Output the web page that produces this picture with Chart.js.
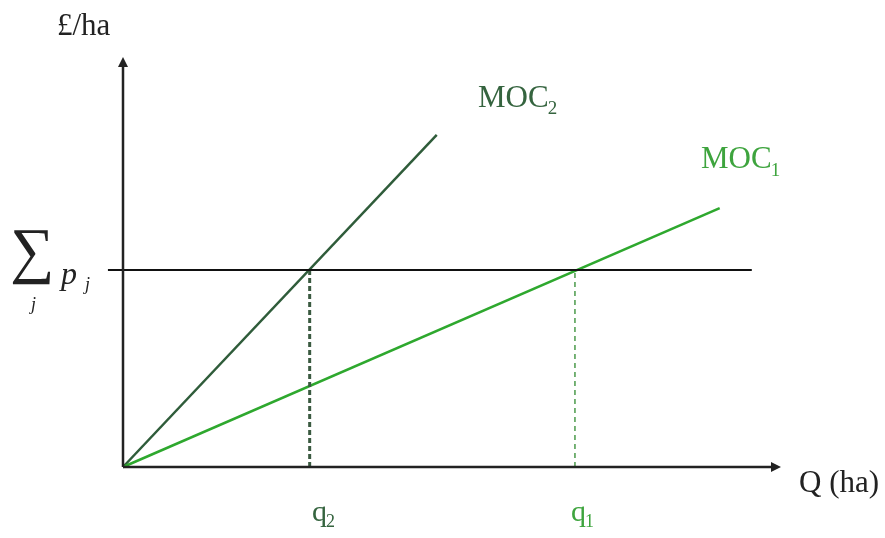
<!DOCTYPE html>
<html>
<head>
<meta charset="utf-8">
<script src="https://cdn.jsdelivr.net/npm/chart.js@4.4.1/dist/chart.umd.min.js"></script>
<style>
  body { margin: 0; background: #fff; }
  #wrap { width: 885px; height: 538px; position: relative; }
</style>
</head>
<body>
<div id="wrap"><canvas id="chart"></canvas></div>
<script>
// data (axis units 0..100)
const sumP = 48.4;        // level of the Σ p_j line
const q2 = 28.5;
const q1 = 69.0;
const moc2 = [{x: 0, y: 0}, {x: 47.9, y: 81.6}];
const moc1 = [{x: 0, y: 0}, {x: 91.1, y: 63.6}];
const priceLine = [{x: -2.3, y: sumP}, {x: 96.0, y: sumP}];
const q2Line = [{x: q2, y: 0}, {x: q2, y: sumP}];
const q1Line = [{x: q1, y: 0}, {x: q1, y: sumP}];

const dark = '#2f5c3a';
const light = '#2ea82e';

function label(ctx, text, sub, x, y, size, subSize, drop, color) {
  ctx.fillStyle = color;
  ctx.font = 'normal normal 400 ' + size + 'px "Liberation Serif", "DejaVu Serif", serif';
  ctx.fillText(text, x, y);
  const w = ctx.measureText(text).width;
  if (sub) {
    ctx.font = 'normal normal 400 ' + subSize + 'px "Liberation Serif", "DejaVu Serif", serif';
    ctx.fillText(sub, x + w - 1, y + drop);
  }
}

// axes with arrows + text labels
const diagram = {
  id: 'diagram',
  afterDatasetsDraw(chart) {
    const ctx = chart.ctx;
    const xs = chart.scales.x, ys = chart.scales.y;
    const ox = xs.getPixelForValue(0), oy = ys.getPixelForValue(0);
    const xEnd = xs.getPixelForValue(100), yEnd = ys.getPixelForValue(100);

    ctx.save();
    ctx.strokeStyle = '#222';
    ctx.fillStyle = '#222';
    ctx.lineWidth = 2.5;
    ctx.beginPath();
    ctx.moveTo(ox, oy); ctx.lineTo(xEnd - 4, oy);
    ctx.moveTo(ox, oy); ctx.lineTo(ox, yEnd + 4);
    ctx.stroke();
    // arrow heads
    ctx.beginPath();
    ctx.moveTo(xEnd + 3, oy); ctx.lineTo(xEnd - 7, oy - 5); ctx.lineTo(xEnd - 7, oy + 5); ctx.closePath();
    ctx.fill();
    ctx.beginPath();
    ctx.moveTo(ox, yEnd - 3); ctx.lineTo(ox - 5, yEnd + 7); ctx.lineTo(ox + 5, yEnd + 7); ctx.closePath();
    ctx.fill();

    ctx.textBaseline = 'alphabetic';
    label(ctx, '£/ha', null, 57, 35, 31, 0, 0, '#222');
    label(ctx, 'Q (ha)', null, 799, 492, 31, 0, 0, '#222');

    // Σ p_j
    ctx.fillStyle = '#222';
    ctx.font = '62px "Liberation Serif", serif';
    ctx.fillText('\u2211', 10, 271);
    ctx.font = 'italic 32px "Liberation Serif", serif';
    ctx.fillText('p', 61, 284);
    ctx.font = 'italic 18px "Liberation Serif", serif';
    ctx.fillText('j', 85, 290);
    ctx.fillText('j', 31, 310);

    // curve labels
    label(ctx, 'MOC', '2', 478, 107, 31, 19, 7, '#35643f');
    label(ctx, 'q', '2', 312, 521, 30, 18, 6, '#35643f');
    label(ctx, 'MOC', '1', 701, 168, 31, 19, 8, '#3ea43e');
    label(ctx, 'q', '1', 571, 521, 30, 18, 6, '#3ea43e');
    ctx.restore();
  }
};

function seg(data, color, width, dash) {
  return {
    data: data,
    showLine: true,
    borderColor: color,
    borderWidth: width,
    borderDash: dash || [],
    pointRadius: 0,
    fill: false
  };
}

new Chart(document.getElementById('chart'), {
  type: 'scatter',
  data: {
    datasets: [
      seg(priceLine, '#111', 2),
      seg(q2Line, '#3a5a40', 3, [5, 3]),
      seg(q1Line, '#4a9a4a', 1.5, [5, 4]),
      seg(moc1, light, 2.5),
      seg(moc2, dark, 2.5)
    ]
  },
  options: {
    responsive: true,
    maintainAspectRatio: false,
    animation: false,
    layout: { padding: { left: 123, right: 107, top: 60, bottom: 71 } },
    plugins: { legend: { display: false }, tooltip: { enabled: false } },
    scales: {
      x: { type: 'linear', min: 0, max: 100, display: false },
      y: { type: 'linear', min: 0, max: 100, display: false }
    },
    clip: false
  },
  plugins: [diagram]
});
</script>
</body>
</html>
